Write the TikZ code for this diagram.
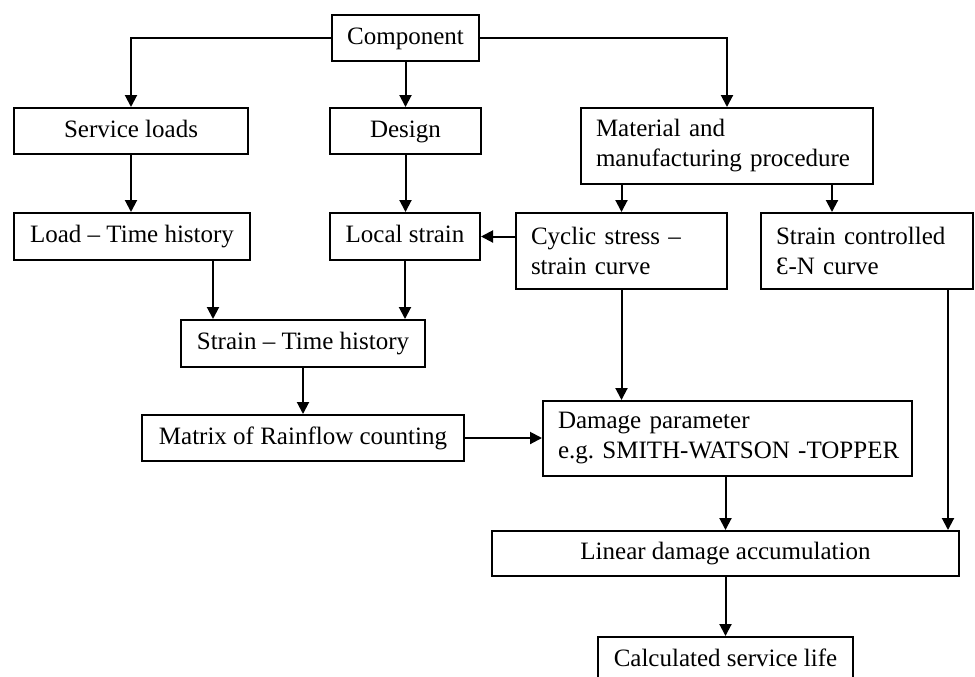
\documentclass[tikz,border=0pt]{standalone}
\usepackage{fontspec}
\setmainfont{Liberation Serif}
\usetikzlibrary{arrows.meta,calc}
\begin{document}
\frenchspacing
\begin{tikzpicture}[x=0.5pt,y=-0.5pt,
  font=\fontsize{12.5}{15}\selectfont,
  box/.style={draw,line width=1pt,inner sep=0pt,anchor=center},
  sbox/.style={box,text height=8.8pt,text depth=2.4pt},
  lbox/.style={box,align=left,inner xsep=7.5pt},
  arr/.style={line width=1pt,-{Triangle[length=6pt,width=6pt]}},
  ln/.style={line width=1pt}]
\useasboundingbox (0,0) rectangle (975,676);
\clip (0,0) rectangle (975,676);
\fill[white] (0,0) rectangle (975,676);
% boxes
\node[sbox,minimum width=73.5pt,minimum height=23pt] (comp) at (405.5,38) {Component};
\node[sbox,minimum width=117pt,minimum height=23pt] (serv) at (131,131) {Service loads};
\node[sbox,minimum width=75.5pt,minimum height=23pt] (design) at (405.5,131) {Design};
\node[lbox,minimum width=146pt,text width=131pt,minimum height=38pt] (mat) at (727,146) {\mbox{Material and}\\\mbox{manufacturing procedure}};
\node[sbox,minimum width=118pt,minimum height=23.5pt] (load) at (132,236.5) {Load -- Time history};
\node[sbox,minimum width=75pt,minimum height=23.5pt] (local) at (405,236.5) {Local strain};
\node[lbox,minimum width=105.5pt,text width=90.5pt,minimum height=38pt] (cyc) at (621.5,251) {\mbox{Cyclic stress --}\\\mbox{strain curve}};
\node[lbox,minimum width=106pt,text width=91pt,minimum height=38pt] (sc) at (867,251) {\mbox{Strain controlled}\\\mbox{Ɛ-N curve}};
\node[sbox,minimum width=122pt,minimum height=23.5pt] (sth) at (303,343.5) {Strain -- Time history};
\node[sbox,minimum width=161pt,minimum height=23pt] (rain) at (303,438) {Matrix of Rainflow counting};
\node[lbox,minimum width=184.5pt,text width=169.5pt,minimum height=37.5pt] (dmg) at (727.5,438.5) {\mbox{Damage parameter}\\\mbox{e.g. SMITH-WATSON -TOPPER}};
\node[sbox,minimum width=233.5pt,minimum height=22.5pt] (lin) at (725.5,553.5) {Linear damage accumulation};
\node[sbox,minimum width=127.5pt,minimum height=23pt] (calc) at (725.5,660) {Calculated service life};
% helper coordinates
\coordinate (xa) at (213,0);
\coordinate (xb) at (832,0);
\coordinate (xc) at (948,0);
% connectors
\draw[arr] (comp.west) -| (serv.north);
\draw[arr] (comp.south) -- (design.north);
\draw[arr] (comp.east) -| (mat.north);
\draw[arr] (serv.south) -- (serv.south |- load.north);
\draw[arr] (design.south) -- (design.south |- local.north);
\draw[arr] (mat.south -| cyc) -- (cyc.north);
\draw[arr] (mat.south -| xb) -- (sc.north -| xb);
\draw[arr] (cyc.west |- local) -- (local.east);
\draw[arr] (load.south -| xa) -- (sth.north -| xa);
\draw[arr] (local.south) -- (local.south |- sth.north);
\draw[arr] (sth.south) -- (rain.north);
\draw[arr] (rain.east) -- (rain.east -| dmg.west);
\draw[arr] (cyc.south) -- (cyc.south |- dmg.north);
\draw[arr] (sc.south -| xc) -- (lin.north -| xc);
\draw[arr] (dmg.south -| lin) -- (lin.north);
\draw[arr] (lin.south) -- (calc.north);
\end{tikzpicture}
\end{document}
